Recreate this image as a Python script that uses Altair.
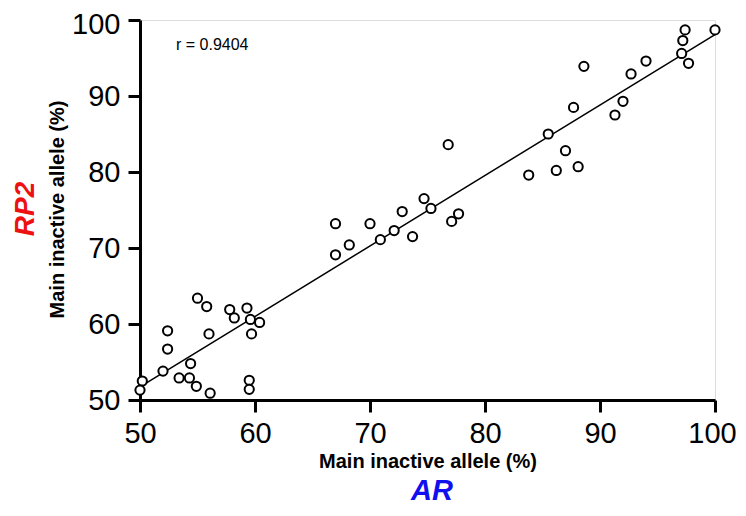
import altair as alt
import pandas as pd

ar = [50.2, 50.0, 52.4, 52.4, 52.0, 53.4, 54.4, 54.3, 54.9, 55.0,
      55.8, 56.0, 56.1, 57.8, 58.2, 59.3, 59.6, 59.7, 59.5, 59.5,
      60.4, 67.0, 67.0, 68.2, 70.0, 70.9, 72.1, 72.8, 73.7, 74.7,
      75.3, 77.1, 77.7, 76.8, 83.8, 85.5, 86.2, 87.0, 88.1, 87.7,
      88.6, 91.3, 92.0, 92.7, 94.0, 97.1, 97.2, 97.4, 97.7, 100.0]
rp2 = [52.5, 51.3, 59.1, 56.7, 53.8, 52.9, 54.8, 52.9, 51.8, 63.4,
       62.3, 58.7, 50.9, 61.9, 60.8, 62.1, 60.6, 58.7, 52.6, 51.4,
       60.2, 73.2, 69.1, 70.4, 73.2, 71.1, 72.3, 74.8, 71.5, 76.5,
       75.2, 73.5, 74.5, 83.6, 79.6, 85.0, 80.2, 82.8, 80.7, 88.5,
       93.9, 87.5, 89.3, 92.9, 94.6, 95.6, 97.3, 98.7, 94.3, 98.7]
ticks = [50, 60, 70, 80, 90, 100]
axis_title = "Main inactive allele (%)"
r_label = "r = 0.9404"
x_gene = "AR"
y_gene = "RP2"

df = pd.DataFrame({"ar": ar, "rp2": rp2})
FONT = "Liberation Sans"

xscale = alt.Scale(domain=[50, 100], nice=False, zero=False)
yscale = alt.Scale(domain=[50, 100], nice=False, zero=False)

common_axis = dict(
    values=ticks, grid=False, domainColor="black", domainWidth=3,
    tickColor="black", tickWidth=3, tickSize=12,
    labelFont=FONT, labelFontSize=29, labelColor="black",
    titleFont=FONT, titleFontSize=20, titleFontWeight="bold", titleColor="black",
    labelFlush=False, labelOverlap=False,
)

xaxis = alt.Axis(title=axis_title, labelPadding=7, titleY=67,
                 titleBaseline="alphabetic",
                 labelOffset={"condition": {"test": "datum.value === 100", "value": -3}, "value": 0},
                 **common_axis)
yaxis = alt.Axis(title=axis_title, labelPadding=8, titleX=-77, titleY=189,
                 titleBaseline="alphabetic", titleAngle=270,
                 labelOffset={"condition": {"test": "datum.value === 100", "value": 4}, "value": 0},
                 **common_axis)

base = alt.Chart(df)

points = base.mark_point(shape="circle", filled=False, stroke="black", fill="white",
                         fillOpacity=1, strokeWidth=2, size=85, opacity=1).encode(
    x=alt.X("ar:Q", scale=xscale, axis=xaxis),
    y=alt.Y("rp2:Q", scale=yscale, axis=yaxis),
)

line = base.transform_regression("ar", "rp2").mark_line(color="black", strokeWidth=1.5).encode(
    x=alt.X("ar:Q", scale=xscale),
    y=alt.Y("rp2:Q", scale=yscale),
)

labels = pd.DataFrame({"t": [r_label]})
rtext = alt.Chart(labels).mark_text(font=FONT, fontSize=16, align="left",
                                    baseline="alphabetic", color="black").encode(
    text="t:N", x=alt.value(36), y=alt.value(30))

gx = alt.Chart(pd.DataFrame({"t": [x_gene]})).mark_text(
    font=FONT, fontSize=29, fontWeight="bold", fontStyle="italic", color="#1010ee",
    align="center", baseline="alphabetic").encode(
    text="t:N", x=alt.value(292), y=alt.value(480))

gy = alt.Chart(pd.DataFrame({"t": [y_gene]})).mark_text(
    font=FONT, fontSize=28, fontWeight="bold", fontStyle="italic", color="#ee1111",
    align="center", baseline="alphabetic", angle=270).encode(
    text="t:N", x=alt.value(-106), y=alt.value(189))

chart = alt.layer(line, points, rtext, gx, gy).properties(
    width=575, height=380,
    autosize=alt.AutoSizeParams(type="none"),
    padding={"left": 132, "top": 12, "right": 23, "bottom": 108},
).configure_view(stroke=None).configure(background="white")

chart.save("out.html", embed_options={"renderer": "svg", "actions": False})
